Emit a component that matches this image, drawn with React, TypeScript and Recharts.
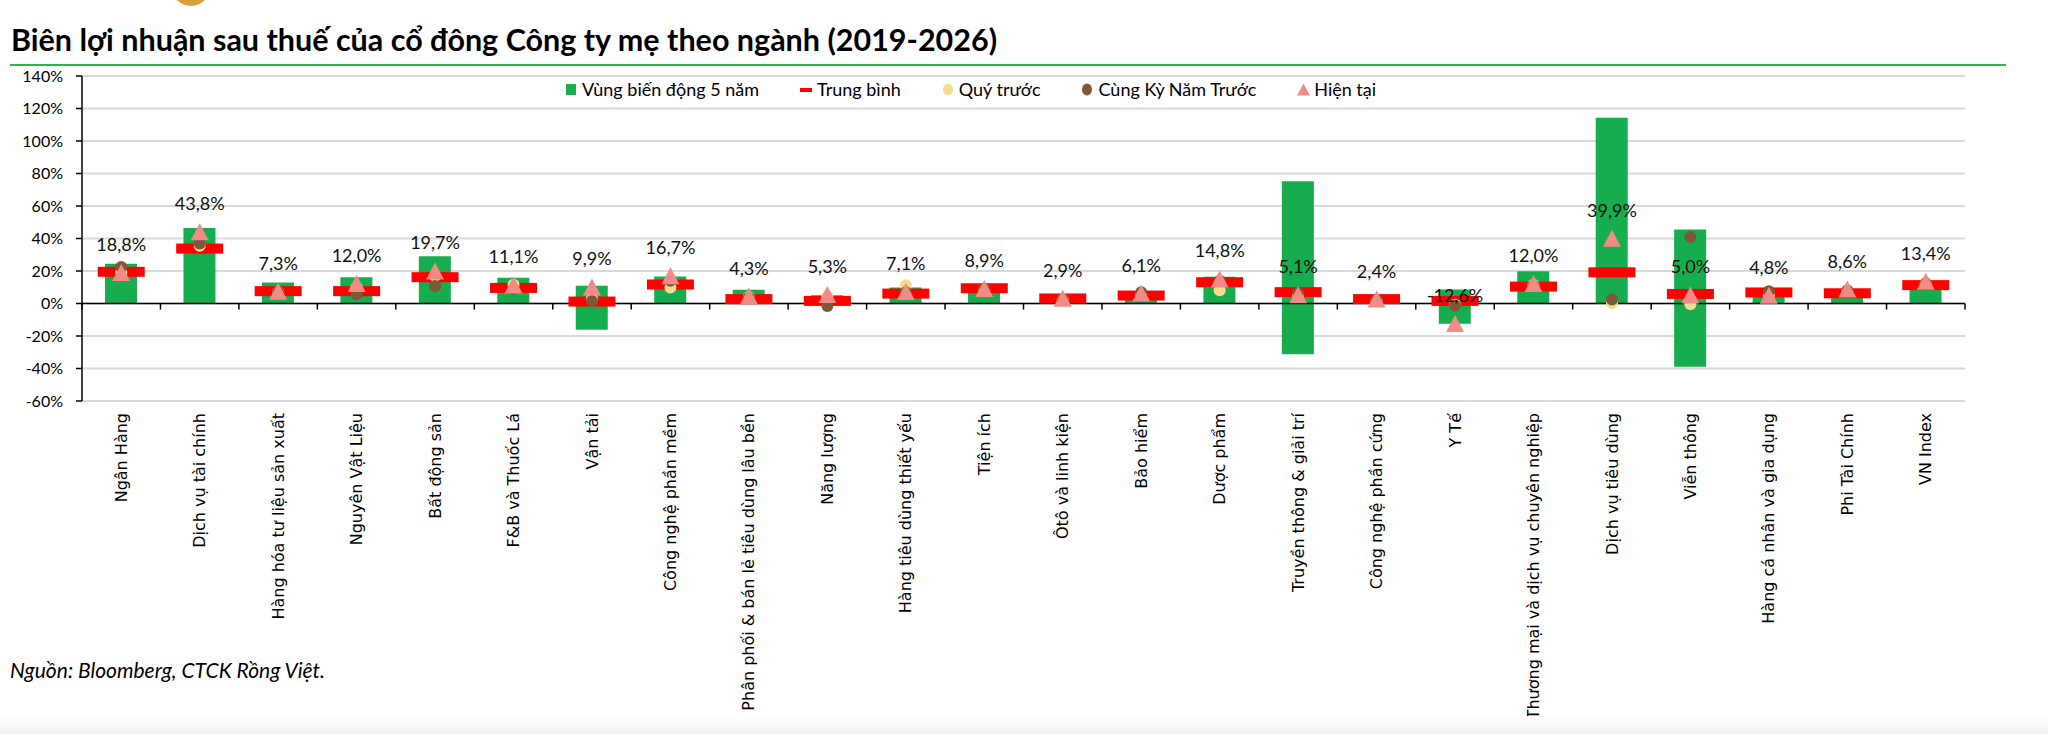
import React from 'react';
import {
  ComposedChart,
  Bar,
  Scatter,
  XAxis,
  YAxis,
  CartesianGrid,
  ReferenceLine
} from 'recharts';

// Ngành (categories)
const sectors = [
  'Ngân Hàng',
  'Dịch vụ tài chính',
  'Hàng hóa tư liệu sản xuất',
  'Nguyên Vật Liệu',
  'Bất động sản',
  'F&B và Thuốc Lá',
  'Vận tải',
  'Công nghệ phần mềm',
  'Phân phối & bán lẻ tiêu dùng lâu bền',
  'Năng lượng',
  'Hàng tiêu dùng thiết yếu',
  'Tiện ích',
  'Ôtô và linh kiện',
  'Bảo hiểm',
  'Dược phẩm',
  'Truyền thông & giải trí',
  'Công nghệ phần cứng',
  'Y Tế',
  'Thương mại và dịch vụ chuyên nghiệp',
  'Dịch vụ tiêu dùng',
  'Viễn thông',
  'Hàng cá nhân và gia dụng',
  'Phi Tài Chính',
  'VN Index'
];

// Vùng biến động 5 năm (%)
const rangeHigh = [24.5, 46.5, 12.9, 16.2, 29.1, 15.8, 10.9, 16.6, 8.4, 5.1, 9.8, 10.5, 3.8, 6.0, 16.4, 75.3, 3.2, 8.6, 19.9, 114.3, 45.5, 7.5, 7.0, 12.0];
const rangeLow = [0, 0, 0, 0, 0, 0, -16.2, 0, 0, 0, 0, 0, 0, 0, 0, -31.3, 0, -12.5, 0, 0, -38.9, 0, 0, 0];

// Trung bình
const average = [19.5, 33.8, 7.6, 7.6, 16.2, 9.6, 1.2, 11.7, 2.7, 1.6, 6.1, 9.4, 3.1, 4.9, 13.1, 7.0, 2.7, 1.6, 10.4, 19.2, 5.9, 6.8, 6.3, 11.3];

// Quý trước
const prevQuarter = [19.0, 35.5, 7.0, 10.0, 17.0, 11.5, 3.1, 9.8, 4.0, 4.5, 11.3, 8.5, 2.5, 5.5, 8.2, 5.0, 2.0, -0.8, 11.5, 0.3, -0.5, 5.0, 8.0, 12.5];

// Cùng kỳ năm trước
const sameQuarterLastYear = [22.5, 36.9, 7.0, 5.7, 10.7, 9.0, 1.5, 14.0, 3.5, -1.6, 7.0, 9.0, 2.5, 7.0, 14.0, 6.5, 2.5, -1.4, 11.0, 2.5, 41.0, 7.5, 8.0, 12.5];

// Hiện tại
const current = [18.8, 43.8, 7.3, 12.0, 19.7, 11.1, 9.9, 16.7, 4.3, 5.3, 7.1, 8.9, 2.9, 6.1, 14.8, 5.1, 2.4, -12.6, 12.0, 39.9, 5.0, 4.8, 8.6, 13.4];

const yTicks = [-60, -40, -20, 0, 20, 40, 60, 80, 100, 120, 140];

const data = sectors.map((name, i) => ({
  name,
  range: [rangeLow[i], rangeHigh[i]],
  avg: average[i],
  prevQ: prevQuarter[i],
  yoy: sameQuarterLastYear[i],
  now: current[i]
}));

const GREEN = '#16ad4f';
const RED = '#ff0000';
const YELLOW = '#f2de8e';
const BROWN = '#7e5838';
const PINK = '#f28a85';

const fmt = (v: number) => `${v.toFixed(1).replace('.', ',')}%`;

const AvgDash = (p: any) => (
  <rect x={p.cx - 23.5} y={p.cy - 5} width={47} height={10} fill={RED} />
);

const dot = (color: string) => (p: any) => <circle cx={p.cx} cy={p.cy} r={6} fill={color} />;

const CurrentMark = (p: any) => (
  <g>
    <polygon
      points={`${p.cx},${p.cy - 9} ${p.cx + 9},${p.cy + 8} ${p.cx - 9},${p.cy + 8}`}
      fill={PINK}
    />
    <text
      x={p.cx}
      y={p.cy - 29}
      textAnchor="middle"
      dominantBaseline="central"
      fontFamily="Lato"
      fontSize={18}
      fill="#111"
    >
      {fmt(p.payload.now)}
    </text>
  </g>
);

const SectorTick = ({ x, y, payload }: any) => (
  <text
    x={x}
    y={y}
    transform={`rotate(-90 ${x} ${y})`}
    textAnchor="end"
    dy="0.35em"
    fontFamily="DejaVu Sans"
    fontSize={16}
    fill="#000"
  >
    {payload.value}
  </text>
);

// zero line with category boundary ticks
const ZeroAxis = (p: any) => {
  const n = sectors.length;
  const step = (p.x2 - p.x1) / n;
  return (
    <g>
      <line x1={p.x1} y1={p.y1} x2={p.x2} y2={p.y2} stroke="#000" strokeWidth={1.5} />
      {Array.from({ length: n + 1 }, (_, i) => (
        <line key={i} x1={p.x1 + i * step} x2={p.x1 + i * step} y1={p.y1} y2={p.y1 + 6} stroke="#000" strokeWidth={1.5} />
      ))}
    </g>
  );
};

const legendItems = [
  { label: 'Vùng biến động 5 năm', icon: <rect x={1} y={1} width={10} height={11} fill={GREEN} /> },
  { label: 'Trung bình', icon: <rect x={0} y={5} width={12} height={4} fill={RED} /> },
  { label: 'Quý trước', icon: <ellipse cx={6} cy={6.5} rx={5} ry={6} fill={YELLOW} /> },
  { label: 'Cùng Kỳ Năm Trước', icon: <ellipse cx={6} cy={6.5} rx={5} ry={6} fill={BROWN} /> },
  { label: 'Hiện tại', icon: <polygon points="6.5,0.5 13,12.5 0,12.5" fill={PINK} /> }
];

export default function App() {
  return (
    <div style={{ position: 'absolute', left: 0, top: 0, width: 2048, height: 734, background: '#fff', overflow: 'hidden' }}>
      <div style={{ position: 'absolute', left: 172, top: -32, width: 38, height: 38, borderRadius: '50%', background: '#d9a03c' }} />
      <div
        style={{
          position: 'absolute',
          left: 11,
          top: 24,
          fontFamily: 'Lato',
          fontWeight: 700,
          fontSize: 30.5,
          lineHeight: '30px',
          color: '#000',
          whiteSpace: 'nowrap'
        }}
      >
        Biên lợi nhuận sau thuế của cổ đông Công ty mẹ theo ngành (2019-2026)
      </div>
      <div style={{ position: 'absolute', left: 10, top: 64, width: 1996, height: 2, background: '#2db34a' }} />

      <div style={{ position: 'absolute', left: 0, top: 0 }}>
        <ComposedChart width={2048} height={722} data={data} margin={{ top: 76, right: 83, bottom: 0, left: 0 }}>
          <CartesianGrid vertical={false} stroke="#d9d9d9" strokeWidth={2} />
          <XAxis
            dataKey="name"
            interval={0}
            height={321}
            axisLine={false}
            tickLine={false}
            tickSize={0}
            tickMargin={12}
            tick={<SectorTick />}
          />
          <YAxis
            width={82}
            domain={[-60, 140]}
            ticks={yTicks}
            interval={0}
            tickFormatter={(v: number) => `${v}%`}
            axisLine={{ stroke: '#000', strokeWidth: 1.5 }}
            tickLine={{ stroke: '#000', strokeWidth: 1.5 }}
            tickSize={6}
            tickMargin={13}
            tick={{ fill: '#000', fontSize: 16, fontFamily: 'Lato' }}
          />
          <ReferenceLine y={0} shape={<ZeroAxis />} />
          <Bar dataKey="range" barSize={32} fill={GREEN} isAnimationActive={false} />
          <Scatter dataKey="avg" shape={AvgDash} isAnimationActive={false} />
          <Scatter dataKey="prevQ" shape={dot(YELLOW)} isAnimationActive={false} />
          <Scatter dataKey="yoy" shape={dot(BROWN)} isAnimationActive={false} />
          <Scatter dataKey="now" shape={CurrentMark} isAnimationActive={false} />
        </ComposedChart>
      </div>

      <div
        style={{
          position: 'absolute',
          left: 565,
          top: 78,
          display: 'flex',
          alignItems: 'center',
          gap: 41,
          fontFamily: 'Lato',
          fontSize: 18,
          color: '#000',
          whiteSpace: 'nowrap'
        }}
      >
        {legendItems.map((it) => (
          <div key={it.label} style={{ display: 'flex', alignItems: 'center', gap: 4 }}>
            <svg width={13} height={13}>{it.icon}</svg>
            <span>{it.label}</span>
          </div>
        ))}
      </div>

      <div
        style={{
          position: 'absolute',
          left: 10,
          top: 659,
          fontFamily: 'Lato',
          fontStyle: 'italic',
          fontSize: 21,
          lineHeight: '21px',
          color: '#000',
          whiteSpace: 'nowrap'
        }}
      >
        Nguồn: Bloomberg, CTCK Rồng Việt.
      </div>
      <div style={{ position: 'absolute', left: 0, top: 716, width: 2048, height: 18, background: 'linear-gradient(#ffffff, #f1f1f1)' }} />
    </div>
  );
}
